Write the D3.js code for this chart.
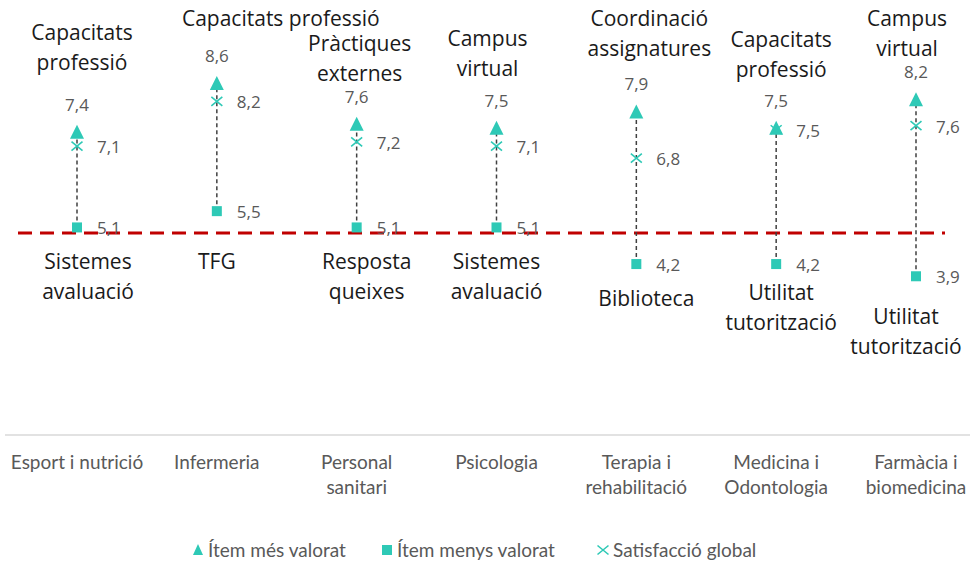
<!DOCTYPE html>
<html>
<head>
<meta charset="utf-8">
<script src="https://d3js.org/d3.v7.min.js"></script>
<style>
  body { margin: 0; background: #FFF; }
  svg { display: block; font-family: "Open Sans", sans-serif; }
</style>
</head>
<body>
<script>
// categories (degree programmes)
var categories = ['Esport i nutrició', 'Infermeria', 'Personal sanitari', 'Psicologia',
                  'Terapia i rehabilitació', 'Medicina i Odontologia', 'Farmàcia i biomedicina'];
var catLines = [['Esport i nutrició'], ['Infermeria'], ['Personal', 'sanitari'], ['Psicologia'],
                ['Terapia i', 'rehabilitació'], ['Medicina i', 'Odontologia'], ['Farmàcia i', 'biomedicina']];

var maxValues    = [7.4, 8.6, 7.6, 7.5, 7.9, 7.5, 8.2];   // Ítem més valorat
var minValues    = [5.1, 5.5, 5.1, 5.1, 4.2, 4.2, 3.9];   // Ítem menys valorat
var globalValues = [7.1, 8.2, 7.2, 7.1, 6.8, 7.5, 7.6];   // Satisfacció global
var threshold = 5;

var maxItems = [['Capacitats', 'professió'], ['Capacitats professió'], ['Pràctiques', 'externes'],
                ['Campus', 'virtual'], ['Coordinació', 'assignatures'], ['Capacitats', 'professió'], ['Campus', 'virtual']];
var minItems = [['Sistemes', 'avaluació'], ['TFG'], ['Resposta', 'queixes'], ['Sistemes', 'avaluació'],
                ['Biblioteca'], ['Utilitat', 'tutorització'], ['Utilitat', 'tutorització']];

// manual label placement (hand-moved labels in the original)
var maxItemOffset = [[5, -94], [64, -59], [3, -75], [-9, -84], [13, -87], [5, -83], [-9, -75]];
var minItemOffset = [[11, 42], [0, 58], [10, 42], [0, 42], [10, 42], [5, 36], [-10, 48]];

var W = 973, H = 564;
var teal = '#2EC9B6';
var svg = d3.select('body').append('svg').attr('width', W).attr('height', H);

var x = d3.scalePoint().domain(categories).range([77, 916]);
var y = d3.scaleLinear().domain([0, 10]).range([435, 28]);

// category axis
var axis = d3.axisBottom(x).tickSize(0).tickFormat('');
var gAxis = svg.append('g').attr('transform', 'translate(0,' + y(0) + ')').call(axis);
gAxis.select('.domain').remove();
gAxis.append('line').attr('x1', 5).attr('x2', 970).attr('stroke', '#D9D9D9').attr('stroke-width', 1.5);

svg.append('g').selectAll('text').data(categories).enter().append('text')
  .attr('text-anchor', 'middle')
  .attr('fill', '#595959')
  .style('font-family', 'Lato, sans-serif')
  .style('font-size', '19px')
  .each(function(d, i){
    var t = d3.select(this);
    catLines[i].forEach(function(l, j){
      t.append('tspan').attr('x', x(d)).attr('y', y(0) + 34 + j * 25).text(l);
    });
  });

// threshold line
svg.append('line')
  .attr('x1', 18).attr('x2', 945)
  .attr('y1', y(threshold) + 1.5).attr('y2', y(threshold) + 1.5)
  .attr('stroke', '#C00000').attr('stroke-width', 3)
  .attr('stroke-dasharray', '14,8');

// connectors
svg.append('g').selectAll('line').data(categories).enter().append('line')
  .attr('x1', function(d){ return x(d); })
  .attr('x2', function(d){ return x(d); })
  .attr('y1', function(d, i){ return y(minValues[i]); })
  .attr('y2', function(d, i){ return y(maxValues[i]); })
  .attr('stroke', '#404040').attr('stroke-width', 1.5)
  .attr('stroke-dasharray', '4,3');

var triPath = 'M0,-9L7,5L-7,5Z';
var xPath = 'M-5.5,-4.5L5.5,4.5M-5.5,4.5L5.5,-4.5';

// markers
svg.append('g').selectAll('rect').data(categories).enter().append('rect')
  .attr('x', function(d){ return x(d) - 5; })
  .attr('y', function(d, i){ return y(minValues[i]) - 5; })
  .attr('width', 10).attr('height', 10)
  .attr('fill', teal);

svg.append('g').selectAll('path').data(categories).enter().append('path')
  .attr('d', triPath)
  .attr('transform', function(d, i){ return 'translate(' + x(d) + ',' + y(maxValues[i]) + ')'; })
  .attr('fill', teal);

svg.append('g').selectAll('path').data(categories).enter().append('path')
  .attr('d', xPath)
  .attr('transform', function(d, i){ return 'translate(' + x(d) + ',' + y(globalValues[i]) + ')'; })
  .attr('stroke', teal).attr('stroke-width', 1.6).attr('fill', 'none');

function fmt(v){ return d3.format('.1f')(v).replace('.', ','); }

// value labels
var vl = svg.append('g').attr('fill', '#595959').style('font-size', '17px');
vl.selectAll('.vmax').data(categories).enter().append('text')
  .attr('x', function(d){ return x(d); })
  .attr('y', function(d, i){ return y(maxValues[i]) - 23; })
  .attr('text-anchor', 'middle')
  .text(function(d, i){ return fmt(maxValues[i]); });
vl.selectAll('.vglob').data(categories).enter().append('text')
  .attr('x', function(d){ return x(d) + 20; })
  .attr('y', function(d, i){ return y(globalValues[i]) + 7; })
  .text(function(d, i){ return fmt(globalValues[i]); });
vl.selectAll('.vmin').data(categories).enter().append('text')
  .attr('x', function(d){ return x(d) + 20; })
  .attr('y', function(d, i){ return y(minValues[i]) + 7; })
  .text(function(d, i){ return fmt(minValues[i]); });

// item labels
function itemLabels(items, vals, offs){
  svg.append('g').style('font-size', '21px').attr('fill', '#1a1a1a')
    .selectAll('text').data(categories).enter().append('text')
    .attr('text-anchor', 'middle')
    .each(function(d, i){
      var t = d3.select(this);
      var cx = x(d) + offs[i][0], cy = y(vals[i]) + offs[i][1];
      items[i].forEach(function(l, j){
        t.append('tspan').attr('x', cx).attr('y', cy + j * 30).text(l);
      });
    });
}
itemLabels(maxItems, maxValues, maxItemOffset);
itemLabels(minItems, minValues, minItemOffset);

// legend
var legend = [
  { label: 'Ítem més valorat', kind: 'tri', x: 198 },
  { label: 'Ítem menys valorat', kind: 'sq', x: 387 },
  { label: 'Satisfacció global', kind: 'x', x: 603 }
];
var lg = svg.append('g').attr('transform', 'translate(0,550)');
legend.forEach(function(l){
  if (l.kind === 'tri') lg.append('path').attr('d', 'M0,-6L5,5L-5,5Z').attr('transform', 'translate(' + l.x + ',0)').attr('fill', teal);
  if (l.kind === 'sq') lg.append('rect').attr('x', l.x - 5).attr('y', -5).attr('width', 10).attr('height', 10).attr('fill', teal);
  if (l.kind === 'x') lg.append('path').attr('d', xPath).attr('transform', 'translate(' + l.x + ',0)').attr('stroke', teal).attr('stroke-width', 1.6);
  lg.append('text').attr('x', l.x + 10).attr('y', 7).attr('fill', '#595959')
    .style('font-family', 'Lato, sans-serif').style('font-size', '19px').text(l.label);
});
</script>
</body>
</html>
